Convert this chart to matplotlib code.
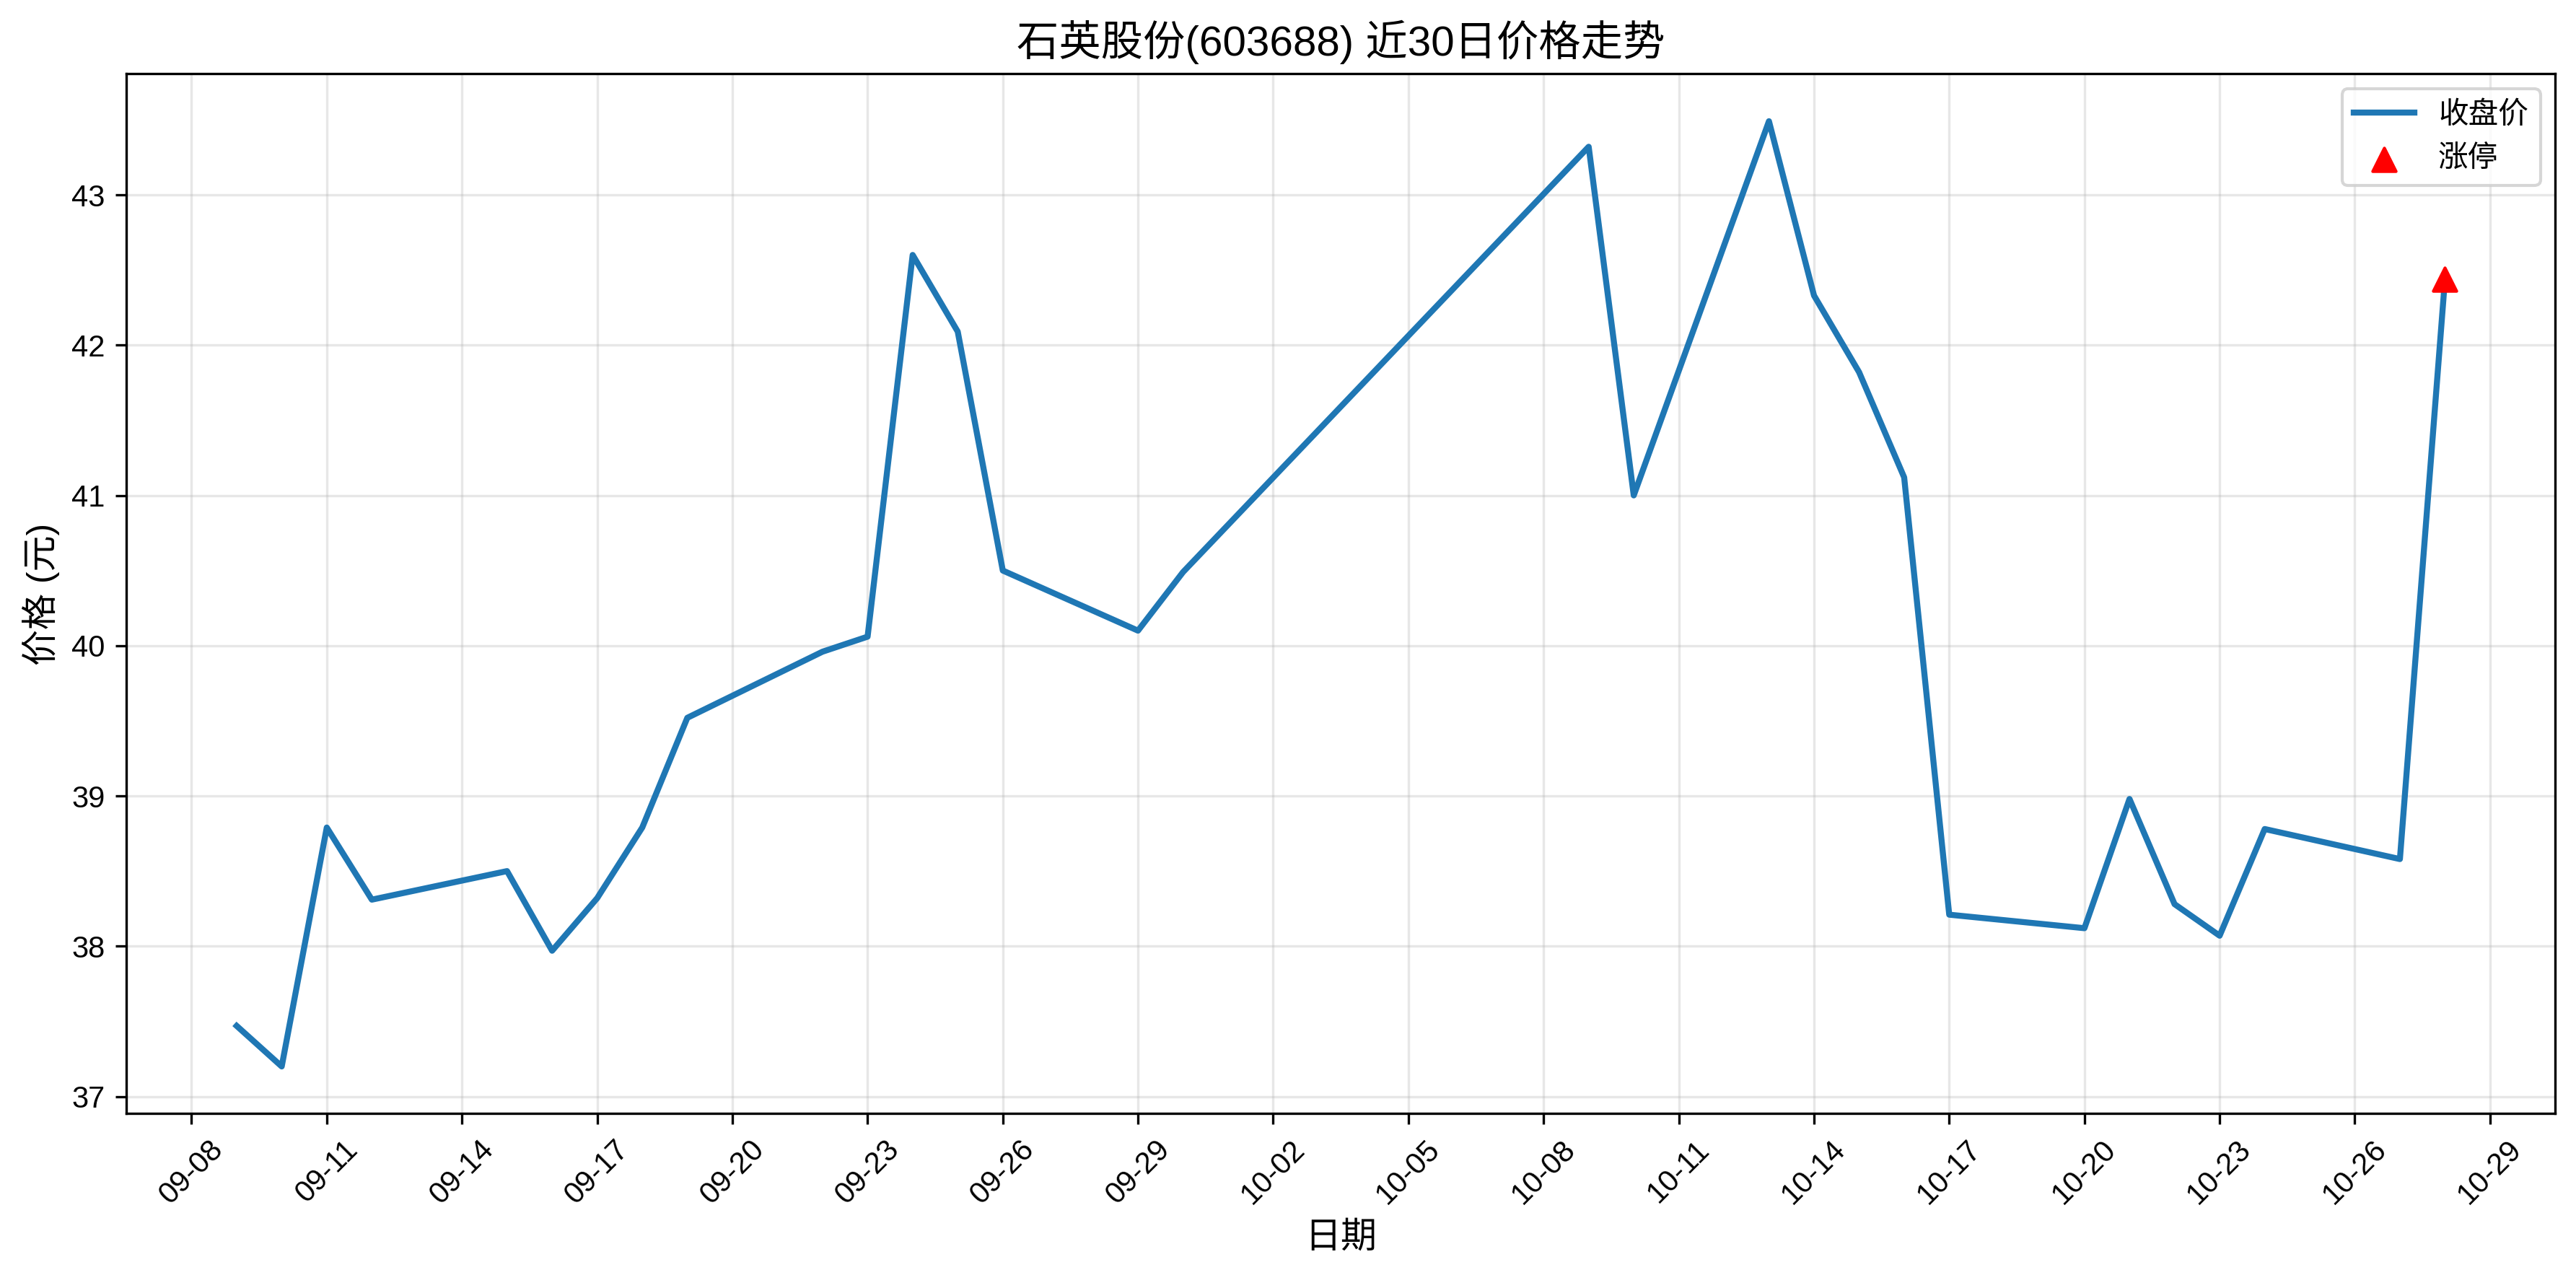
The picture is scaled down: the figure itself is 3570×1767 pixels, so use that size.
import matplotlib
matplotlib.use("Agg")
import matplotlib.pyplot as plt
import matplotlib.dates as mdates
import pandas as pd

plt.rcParams['font.family'] = ['Liberation Sans', 'Noto Sans CJK SC', 'DejaVu Sans']
plt.rcParams['axes.unicode_minus'] = False

dates = ["2025-09-09", "2025-09-10", "2025-09-11", "2025-09-12", "2025-09-15",
         "2025-09-16", "2025-09-17", "2025-09-18", "2025-09-19", "2025-09-22",
         "2025-09-23", "2025-09-24", "2025-09-25", "2025-09-26", "2025-09-29",
         "2025-09-30", "2025-10-09", "2025-10-10", "2025-10-13", "2025-10-14",
         "2025-10-15", "2025-10-16", "2025-10-17", "2025-10-20", "2025-10-21",
         "2025-10-22", "2025-10-23", "2025-10-24", "2025-10-27", "2025-10-28"]
close = [37.47, 37.20, 38.79, 38.31, 38.50,
         37.97, 38.32, 38.79, 39.52, 39.96,
         40.06, 42.60, 42.09, 40.50, 40.10,
         40.49, 43.32, 41.00, 43.49, 42.33,
         41.82, 41.12, 38.21, 38.12, 38.98,
         38.28, 38.07, 38.78, 38.58, 42.44]
limit_up_dates = ["2025-10-28"]
limit_up_prices = [42.44]

title = "石英股份(603688) 近30日价格走势"
xlabel = "日期"
ylabel = "价格 (元)"
label_close = "收盘价"
label_limit = "涨停"

x = pd.to_datetime(dates)
xl = pd.to_datetime(limit_up_dates)

fig = plt.figure(figsize=(11.9, 5.89), dpi=300)
ax = fig.add_axes([0.049, 0.1265, 0.943, 0.8155])

ax.plot(x, close, color='#1f77b4', linewidth=2, label=label_close)
ax.scatter(xl, limit_up_prices, color='red', marker='^', s=60, zorder=5, label=label_limit)

ax.set_title(title, fontsize=14)
ax.set_xlabel(xlabel, fontsize=12)
ax.set_ylabel(ylabel, fontsize=12)
ax.grid(True, alpha=0.3)
ax.legend(loc='upper right')

ticks = pd.date_range("2025-09-08", "2025-10-29", freq="3D")
ax.set_xticks(ticks)
ax.xaxis.set_major_formatter(mdates.DateFormatter('%m-%d'))
plt.setp(ax.get_xticklabels(), rotation=45)

fig.savefig("out.png", dpi=300)
